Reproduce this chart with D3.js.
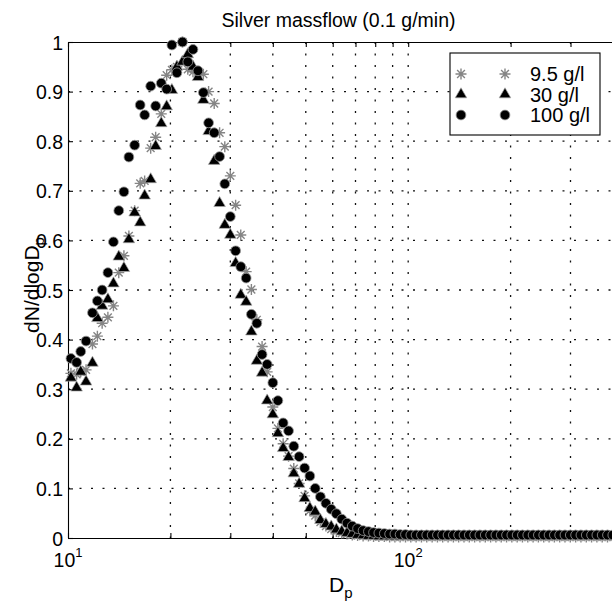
<!DOCTYPE html>
<meta charset="utf-8">
<style>
body { margin: 0; background: #fff; }
svg text { font-family: "Liberation Sans", Arial, Helvetica, sans-serif; fill: #000; }
.grid line { stroke: #111; stroke-width: 1.3; stroke-dasharray: 2,9.5; }
.axis path, .axis line { stroke: #000; stroke-width: 1.1; }
</style>
<svg id="chart" width="612" height="601"></svg>
<script src="https://d3js.org/d3.v7.min.js"></script>
<script>

// particle diameters (nm), SMPS channels
var diameters = [
  10.2, 10.6, 10.9, 11.3, 11.8, 12.2, 12.6, 13.1, 13.6, 14.1,
  14.6, 15.1, 15.7, 16.3, 16.8, 17.5, 18.1, 18.8, 19.5, 20.2,
  20.9, 21.7, 22.5, 23.3, 24.1, 25.0, 25.9, 26.9, 27.9, 28.9,
  30.0, 31.1, 32.2, 33.4, 34.6, 35.9, 37.2, 38.5, 40.0, 41.4,
  42.9, 44.5, 46.1, 47.8, 49.6, 51.4, 53.3, 55.2, 57.3, 59.4,
  61.5, 63.8, 66.1, 68.5, 71.0, 73.7, 76.4, 79.1, 82.0, 85.1,
  88.2, 91.4, 94.7, 98.2, 101.8, 105.5, 109.4, 113.4, 117.6, 121.9,
  126.3, 131.0, 135.8, 140.7, 145.9, 151.2, 156.8, 162.5, 168.5, 174.7,
  181.1, 187.7, 194.6, 201.7, 209.1, 216.7, 224.7, 232.9, 241.4, 250.3,
  259.5, 269.0, 278.8, 289.0, 299.6, 310.6, 322.0, 333.8, 346.0, 358.7,
  371.8, 385.4, 399.5
];

// 9.5 g/l (asterisks)
var conc95 = [
  0.332, 0.330, 0.335, 0.339, 0.391, 0.407, 0.433, 0.445, 0.468, 0.535,
  0.569, 0.609, 0.660, 0.715, 0.720, 0.786, 0.808, 0.855, 0.933, 0.944,
  0.950, 1.000, 0.945, 0.940, 0.938, 0.935, 0.900, 0.876, 0.817, 0.789,
  0.730, 0.671, 0.611, 0.537, 0.501, 0.440, 0.386, 0.335, 0.264, 0.221,
  0.190, 0.165, 0.140, 0.110, 0.085, 0.055, 0.045, 0.032, 0.024, 0.018,
  0.013, 0.010, 0.008, 0.006, 0.005, 0.004, 0.004, 0.003, 0.003, 0.003,
  0.002, 0.002, 0.002, 0.002, 0.002, 0.002, 0.002, 0.002, 0.002, 0.002,
  0.002, 0.002, 0.002, 0.002, 0.002, 0.002, 0.002, 0.002, 0.002, 0.002,
  0.002, 0.002, 0.002, 0.002, 0.002, 0.002, 0.002, 0.002, 0.002, 0.002,
  0.002, 0.002, 0.002, 0.002, 0.002, 0.002, 0.002, 0.002, 0.002, 0.002,
  0.002, 0.002, 0.002
];

// 30 g/l (triangles)
var conc30 = [
  0.323, 0.303, 0.335, 0.315, 0.353, 0.443, 0.468, 0.481, 0.513, 0.567,
  0.544, 0.602, 0.656, 0.636, 0.690, 0.723, 0.790, 0.836, 0.870, 0.903,
  0.950, 0.960, 0.975, 0.950, 0.929, 0.883, 0.820, 0.760, 0.675, 0.631,
  0.611, 0.554, 0.490, 0.476, 0.416, 0.357, 0.333, 0.277, 0.249, 0.211,
  0.181, 0.163, 0.130, 0.109, 0.080, 0.060, 0.053, 0.036, 0.028, 0.023,
  0.017, 0.013, 0.010, 0.008, 0.006, 0.005, 0.004, 0.004, 0.003, 0.003,
  0.003, 0.003, 0.003, 0.003, 0.003, 0.003, 0.003, 0.003, 0.003, 0.003,
  0.003, 0.003, 0.003, 0.003, 0.003, 0.003, 0.003, 0.003, 0.003, 0.003,
  0.003, 0.003, 0.003, 0.003, 0.003, 0.003, 0.003, 0.003, 0.003, 0.003,
  0.003, 0.003, 0.003, 0.003, 0.003, 0.003, 0.003, 0.003, 0.003, 0.003,
  0.003, 0.003, 0.003
];

// 100 g/l (circles)
var conc100 = [
  0.362, 0.354, 0.376, 0.397, 0.454, 0.478, 0.500, 0.535, 0.597, 0.660,
  0.698, 0.768, 0.792, 0.873, 0.853, 0.911, 0.871, 0.917, 0.905, 0.994,
  0.938, 1.000, 0.960, 0.985, 0.942, 0.898, 0.837, 0.817, 0.769, 0.714,
  0.648, 0.579, 0.547, 0.524, 0.451, 0.433, 0.370, 0.350, 0.313, 0.277,
  0.232, 0.216, 0.185, 0.164, 0.141, 0.125, 0.100, 0.083, 0.070, 0.058,
  0.049, 0.038, 0.030, 0.024, 0.019, 0.015, 0.013, 0.011, 0.010, 0.009,
  0.008, 0.008, 0.007, 0.007, 0.006, 0.006, 0.006, 0.006, 0.006, 0.006,
  0.006, 0.006, 0.006, 0.006, 0.006, 0.006, 0.006, 0.006, 0.006, 0.006,
  0.006, 0.006, 0.006, 0.006, 0.006, 0.006, 0.006, 0.006, 0.006, 0.006,
  0.006, 0.006, 0.006, 0.006, 0.006, 0.006, 0.006, 0.006, 0.006, 0.006,
  0.006, 0.006, 0.006
];

var seriesNames = ["9.5 g/l", "30 g/l", "100 g/l"];
var yTicks = [0, 0.1, 0.2, 0.3, 0.4, 0.5, 0.6, 0.7, 0.8, 0.9, 1];
var xMajorTicks = [10, 100];
var xMinorTicks = [20, 30, 40, 50, 60, 70, 80, 90, 200, 300];

var svg = d3.select("#chart");
var plotLeft = 68, plotRight = 613, plotTop = 42, plotBottom = 538;

var x = d3.scaleLog().domain([10, 400]).range([plotLeft, plotRight]);
var y = d3.scaleLinear().domain([0, 1]).range([plotBottom, plotTop]);

// grid
var grid = svg.append("g").attr("class", "grid");
grid.selectAll(".gx")
  .data(xMinorTicks.concat([100]))
  .enter().append("line")
    .attr("x1", function(d) { return x(d); })
    .attr("x2", function(d) { return x(d); })
    .attr("y1", plotTop)
    .attr("y2", plotBottom);
grid.selectAll(".gy")
  .data(yTicks.slice(1, -1))
  .enter().append("line")
    .attr("x1", plotLeft)
    .attr("x2", plotRight)
    .attr("y1", function(d) { return y(d); })
    .attr("y2", function(d) { return y(d); });

// axes, ticks pointing inward
var allX = xMajorTicks.concat(xMinorTicks);
svg.append("g")
    .attr("class", "axis")
    .attr("transform", "translate(0," + plotBottom + ")")
    .call(d3.axisBottom(x).tickValues(allX).tickSizeInner(-5).tickSizeOuter(0).tickFormat(""));
svg.append("g")
    .attr("class", "axis")
    .attr("transform", "translate(0," + plotTop + ")")
    .call(d3.axisTop(x).tickValues(allX).tickSizeInner(-5).tickSizeOuter(0).tickFormat(""));
var yAxis = svg.append("g")
    .attr("class", "axis")
    .attr("transform", "translate(" + plotLeft + ",0)")
    .call(d3.axisLeft(y).tickValues(yTicks).tickSizeInner(-5).tickSizeOuter(0).tickPadding(5)
      .tickFormat(function(d) { return d3.format("~g")(d); }));
yAxis.selectAll("text")
    .attr("font-size", 19.5)
    .attr("dy", "0.36em");
svg.selectAll(".axis").attr("font-family", null);

// log tick labels 10^n
var xl = svg.append("g").selectAll("text")
  .data(xMajorTicks)
  .enter().append("text")
    .attr("x", function(d) { return x(d); })
    .attr("y", 567)
    .attr("text-anchor", "middle")
    .attr("font-size", 19.5);
xl.append("tspan").text("10");
xl.append("tspan")
    .attr("font-size", 13)
    .attr("dy", -10)
    .text(function(d) { return Math.round(Math.log10(d)); });

// markers
function asterisk(r) {
  var p = d3.path();
  for (var i = 0; i < 4; i++) {
    var a = i * Math.PI / 4;
    p.moveTo(-r * Math.cos(a), -r * Math.sin(a));
    p.lineTo(r * Math.cos(a), r * Math.sin(a));
  }
  return p.toString();
}
var triangle = d3.symbol().type(d3.symbolTriangle).size(58)();

function drawMarker(sel, kind) {
  if (kind === 0) {
    sel.append("path").attr("d", asterisk(5.5))
      .attr("stroke", "#858585").attr("stroke-width", 1.4).attr("fill", "none");
  } else if (kind === 1) {
    sel.append("path").attr("d", triangle)
      .attr("fill", "#000").attr("stroke", "#aaa").attr("stroke-width", 0.7);
  } else {
    sel.append("circle").attr("r", 4.9)
      .attr("fill", "#000").attr("stroke", "#999").attr("stroke-width", 0.8);
  }
}

var seriesData = [conc95, conc30, conc100];
seriesData.forEach(function(vals, s) {
  var g = svg.append("g");
  var pts = g.selectAll("g")
    .data(vals)
    .enter().append("g")
      .attr("transform", function(d, i) { return "translate(" + x(diameters[i]) + "," + y(d) + ")"; });
  drawMarker(pts, s);
});

// legend
var legend = svg.append("g");
legend.append("rect")
    .attr("x", 450).attr("y", 53).attr("width", 150).attr("height", 82)
    .attr("fill", "#fff").attr("stroke", "#000").attr("stroke-width", 1.1);
var rows = legend.selectAll(".row")
  .data(seriesNames)
  .enter().append("g")
    .attr("transform", function(d, i) { return "translate(0," + (74 + i * 20.5) + ")"; });
rows.each(function(d, i) {
  var r = d3.select(this);
  drawMarker(r.append("g").attr("transform", "translate(461,0)"), i);
  drawMarker(r.append("g").attr("transform", "translate(505,0)"), i);
  r.append("text").attr("x", 530).attr("y", 0).attr("dy", "0.36em")
    .attr("font-size", 20).text(d);
});

// title and labels
svg.append("text")
    .attr("x", 338.5).attr("y", 27)
    .attr("text-anchor", "middle")
    .attr("font-size", 19.5)
    .text("Silver massflow (0.1 g/min)");

var yl = svg.append("text")
    .attr("transform", "translate(39,285) rotate(-90)")
    .attr("text-anchor", "middle")
    .attr("font-size", 21);
yl.append("tspan").text("dN/dlogD");
yl.append("tspan").attr("font-size", 15).attr("dy", 5).text("p");

var xlab = svg.append("text")
    .attr("x", 329).attr("y", 592)
    .attr("font-size", 21);
xlab.append("tspan").text("D");
xlab.append("tspan").attr("font-size", 15).attr("dy", 6).text("p");

</script>
